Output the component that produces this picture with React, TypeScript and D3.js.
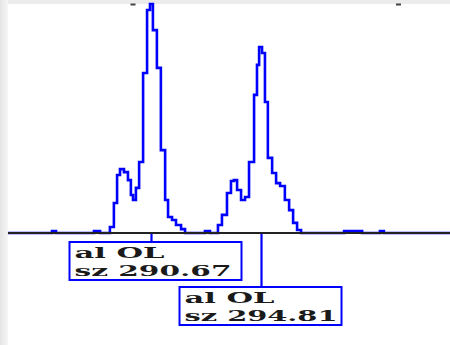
import React from "react";
import * as d3 from "d3";

// Trace: fragment size (bp) and signal (relative units)
const sizes = [
  285.29, 286.95, 287.10, 288.53, 288.76, 289.13, 289.28, 289.40, 289.51, 289.66,
  289.81, 289.92, 290.00, 290.11, 290.23, 290.38, 290.53, 290.64, 290.75, 290.90,
  291.05, 291.21, 291.32, 291.47, 291.62, 291.81, 291.96, 292.71, 292.90, 293.20,
  293.35, 293.54, 293.69, 293.80, 293.92, 294.07, 294.22, 294.37, 294.56, 294.67,
  294.75, 294.86, 294.97, 295.08, 295.24, 295.39, 295.54, 295.72, 295.88, 296.03,
  296.18, 296.33, 297.95, 298.63, 299.30, 299.45, 301.94,
];
const signal = [
  0, 9, 0, 9, 0, 26, 131, 253, 279, 266,
  231, 166, 144, 197, 310, 699, 974, 1000, 886, 721,
  362, 144, 70, 57, 35, 17, 0, 9, 0, 35,
  79, 175, 227, 231, 188, 144, 157, 310, 603, 734,
  812, 786, 572, 328, 262, 218, 205, 144, 100, 44,
  13, 0, 9, 0, 9, 0, 0,
];

// Called peaks
const peakSizes = [290.67, 294.81];
const peakAlleles = ["OL", "OL"];
const axisTicks = [290, 300];

export default function App() {
  const W = 450;
  const H = 345;
  const baseY = 233;
  const x = d3.scaleLinear().domain([290, 300]).range([133, 398.5]);
  const y = d3.scaleLinear().domain([0, 1000]).range([baseY, 4]);

  const pts: [number, number][] = sizes.map((s, i) => [s, signal[i]]);
  const line = d3
    .line<[number, number]>()
    .x((d) => x(d[0]))
    .y((d) => y(d[1]))
    .curve(d3.curveStepAfter);

  const boxW = [172, 162];
  const textW = [157, 153];
  const font = "'DejaVu Serif', 'Liberation Serif', serif";

  return (
    <svg
      width={W}
      height={H}
      style={{ position: "absolute", left: 0, top: 0, display: "block" }}
    >
      <defs>
        <linearGradient id="lg" x1="0" x2="1" y1="0" y2="0">
          <stop offset="0" stopColor="#e4e4e4" />
          <stop offset="1" stopColor="#f6f6f6" />
        </linearGradient>
      </defs>
      <rect x={0} y={0} width={W} height={H} fill="#ececec" />
      <rect x={0} y={0} width={8} height={H} fill="url(#lg)" />
      <rect x={8} y={4} width={W - 8} height={H - 4} fill="#ffffff" />

      {axisTicks.map((t) => (
        <rect key={t} x={x(t) - 2.5} y={3.5} width={5} height={2} fill="#444" />
      ))}

      <path
        d={line(pts) || ""}
        fill="none"
        stroke="#0000ff"
        strokeWidth={2.6}
        strokeLinejoin="miter"
      />

      <line x1={8} x2={W} y1={baseY} y2={baseY} stroke="#222" strokeWidth={2} />

      {peakSizes.map((s, i) => {
        const px = Math.round(x(s)) + 0.5;
        const top = 242 + i * 45;
        const left = px - 82;
        return (
          <g key={i}>
            <line
              x1={px}
              x2={px}
              y1={baseY + 1}
              y2={top}
              stroke="#0000ff"
              strokeWidth={2.2}
            />
            <rect
              x={left}
              y={top}
              width={boxW[i]}
              height={38}
              fill="#ffffff"
              stroke="#0000ff"
              strokeWidth={2}
            />
            <text
              x={left + 5}
              y={top + 16}
              fontFamily={font}
              fontWeight="bold"
              fontSize={14}
              fill="#1a1a1a"
              textLength={90}
              lengthAdjust="spacingAndGlyphs"
            >
              {`al ${peakAlleles[i]}`}
            </text>
            <text
              x={left + 5}
              y={top + 33.5}
              fontFamily={font}
              fontWeight="bold"
              fontSize={14}
              fill="#1a1a1a"
              textLength={textW[i]}
              lengthAdjust="spacingAndGlyphs"
            >
              {`sz ${s.toFixed(2)}`}
            </text>
          </g>
        );
      })}
    </svg>
  );
}
